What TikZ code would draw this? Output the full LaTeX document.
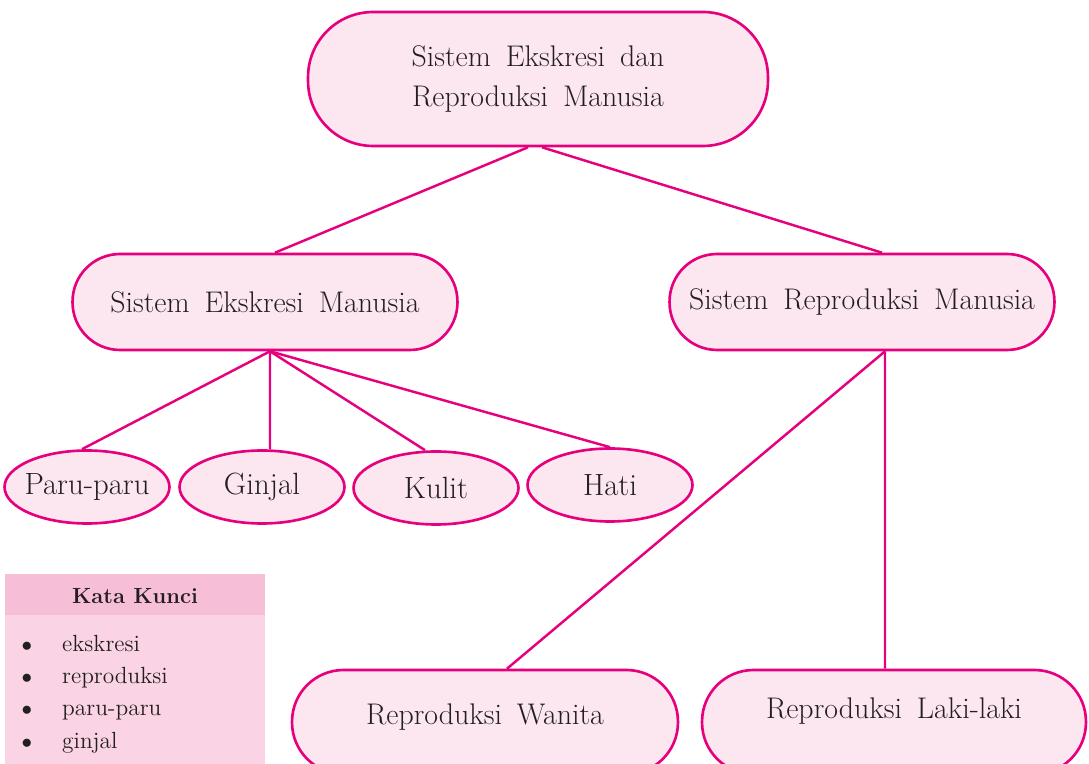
\documentclass[tikz,border=0pt]{standalone}
\usetikzlibrary{positioning}
\usetikzlibrary{shapes.geometric}
\RequirePackage{xcolor}
\definecolor{BUKUmagenta}{HTML}{E6007E}
\definecolor{BUKUpink}{HTML}{FCE6F0}
\definecolor{BUKUkeyhead}{HTML}{F7BED7}
\definecolor{BUKUkeybody}{HTML}{FAD4E5}
\definecolor{BUKUtext}{HTML}{231F20}
\newcommand\bukuspace{\spaceskip=0.5em plus 0.1em\relax}

\begin{document}
\begin{tikzpicture}[x=0.02cm,y=0.02cm,
  every node/.style={text=BUKUtext},
  topic/.style={draw=BUKUmagenta, fill=BUKUpink, line width=1.5pt, align=center,
    font=\fontsize{17}{22}\selectfont\bukuspace, inner sep=0pt},
  leaf/.style={topic, ellipse, inner xsep=-0.3cm, minimum width=3.3cm, minimum height=1.46cm,
    font=\fontsize{17.5}{22}\selectfont},
  link/.style={draw=BUKUmagenta, line width=1.4pt},
  keyword/.style={anchor=base west, font=\fontsize{13.3}{15}\selectfont}]

\useasboundingbox (0,0) rectangle (1089,764);
\clip (0,0) rectangle (1089,764);

% Topics
\node[topic, rounded corners=1.3cm, minimum width=9.2cm, minimum height=2.68cm]
  (main) at (538,685) {Sistem Ekskresi dan\\[1pt]Reproduksi Manusia};
\node[topic, rounded corners=0.95cm, minimum width=7.7cm, minimum height=1.92cm]
  (ekskresi) at (265,462) {Sistem Ekskresi Manusia};
\node[topic, rounded corners=0.95cm, minimum width=7.7cm, minimum height=1.92cm]
  (reproduksi) at (862,462) {Sistem Reproduksi Manusia};

% Organs
\node[leaf] (paru) at (87,277) {Paru-paru};
\node[leaf] (ginjal) at (262,277) {Ginjal};
\node[leaf] (kulit) at (436,276) {Kulit};
\node[leaf] (hati) at (610,279) {Hati};

% Reproduction
\node[topic, rounded corners=1.03cm, minimum width=7.72cm, minimum height=2.08cm,
  text depth=0.3cm] (wanita) at (485,42) {Reproduksi Wanita};
\node[topic, rounded corners=1.03cm, minimum width=7.68cm, minimum height=2.08cm,
  text depth=0.56cm] (laki) at (894,42) {Reproduksi Laki-laki};

% Links
\draw[link] ([xshift=-0.2cm]main.south) -- ([xshift=0.2cm]ekskresi.north);
\draw[link] ([xshift=0.08cm]main.south) -- ([xshift=0.4cm]reproduksi.north);
\draw[link] ([xshift=0.1cm]ekskresi.south) -- ([xshift=-0.1cm]paru.north);
\draw[link] ([xshift=0.1cm]ekskresi.south) -- ([xshift=0.16cm]ginjal.north);
\draw[link] ([xshift=0.1cm]ekskresi.south) -- ([xshift=-0.22cm]kulit.north);
\draw[link] ([xshift=0.1cm]ekskresi.south) -- (hati.north);
\draw[link] ([xshift=0.46cm]reproduksi.south) -- ([xshift=0.44cm]wanita.north);
\draw[link] ([xshift=0.46cm]reproduksi.south) -- ([xshift=-0.18cm]laki.north);

% Kata Kunci
\fill[BUKUkeybody] (5,-10) rectangle (265,149);
\fill[BUKUkeyhead] (5,149) rectangle (265,190);
\node[font=\fontsize{12.5}{14}\selectfont\bfseries] (kunci) at (135,168) {Kata Kunci};
\foreach \word [count=\i] in {ekskresi, reproduksi, paru-paru, ginjal} {
  \node[anchor=base, font=\large] (dot\i) at (27,{145-32.3*\i}) {$\bullet$};
  \node[keyword] (kata\i) at (56,{145-32.3*\i}) {\word};
}

\end{tikzpicture}
\end{document}
